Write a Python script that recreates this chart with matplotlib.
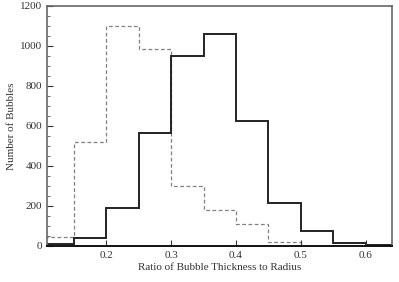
import numpy as np
import matplotlib.pyplot as plt
from matplotlib.ticker import MultipleLocator

plt.rcParams['font.family'] = ['Liberation Serif', 'DejaVu Serif']

# bin edges and counts
edges = [0.10, 0.15, 0.20, 0.25, 0.30, 0.35, 0.40, 0.45, 0.50, 0.55, 0.60, 0.65]
solid_counts = [8, 42, 188, 563, 950, 1058, 627, 213, 75, 17, 3]
dashed_counts = [47, 522, 1100, 983, 298, 178, 108, 18, 0, 0, 0]

fig = plt.figure(figsize=(3.99, 2.82), dpi=100)
ax = fig.add_axes([0.118, 0.128, 0.864, 0.851])

ax.stairs(dashed_counts, edges, color='#808080', linestyle=(0, (3, 2)), linewidth=0.9)
ax.stairs(solid_counts, edges, color='#222222', linewidth=1.4)

ax.set_xlim(0.109, 0.64)
ax.set_ylim(0, 1200)
ax.yaxis.set_major_locator(MultipleLocator(200))
ax.yaxis.set_minor_locator(MultipleLocator(50))
ax.set_xticks([0.2, 0.3, 0.4, 0.5, 0.6])
ax.set_xticklabels(['0.2', '0.3', '0.4', '0.5', '0.6'])

ax.tick_params(direction='in', length=4, width=0.8, labelsize=8, colors='#333333')
ax.tick_params(which='minor', direction='in', length=2, width=0.6, colors='#555555')
ax.tick_params(axis='x', which='minor', bottom=False)

for s in ['top', 'right', 'left']:
    ax.spines[s].set_color('#666666')
    ax.spines[s].set_linewidth(1.2)
ax.spines['bottom'].set_color('#111111')
ax.spines['bottom'].set_linewidth(1.4)

ax.set_xlabel('Ratio of Bubble Thickness to Radius', fontsize=8, color='#333333', labelpad=2)
ax.set_ylabel('Number of Bubbles', fontsize=8, color='#333333', labelpad=3)

plt.savefig('out.png', dpi=100)
